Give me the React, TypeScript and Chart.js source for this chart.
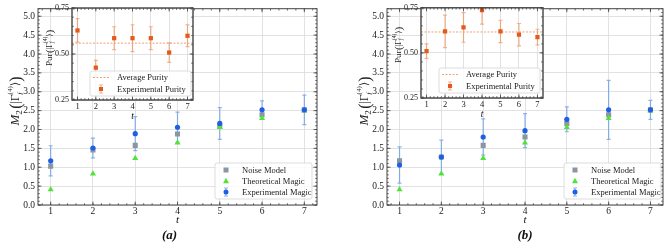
import React, { useEffect, useRef } from "react";
import { Chart, registerables } from "chart.js";
Chart.register(...registerables);

// ---------------- data ----------------
const steps = [1, 2, 3, 4, 5, 6, 7];
const magicTicks = [0, 0.5, 1, 1.5, 2, 2.5, 3, 3.5, 4, 4.5, 5];
const purityTicks = [0.25, 0.5, 0.75];

const theoreticalMagic = [0.41, 0.83, 1.24, 1.65, 2.06, 2.3, 2.5];

const noiseModelA = [1.03, 1.46, 1.58, 1.88, 2.08, 2.39, 2.52];
const experimentalMagicA = [1.17, 1.51, 1.89, 2.06, 2.16, 2.52, 2.52];
const experimentalMagicErrA = [0.4, 0.26, 0.45, 0.4, 0.42, 0.24, 0.39];
const purityA = [0.628, 0.426, 0.586, 0.586, 0.586, 0.508, 0.599];
const purityErrA = [0.064, 0.039, 0.062, 0.073, 0.062, 0.053, 0.059];
const averagePurityA = 0.559;

const noiseModelB = [1.17, 1.27, 1.58, 1.8, 2.16, 2.39, 2.52];
const experimentalMagicB = [1.06, 1.27, 1.8, 1.97, 2.27, 2.52, 2.52];
const experimentalMagicErrB = [0.48, 0.45, 0.48, 0.45, 0.33, 0.78, 0.25];
const purityB = [0.51, 0.619, 0.641, 0.737, 0.619, 0.601, 0.588];
const purityErrB = [0.04, 0.09, 0.082, 0.077, 0.062, 0.062, 0.043];
const averagePurityB = 0.616;

const LBL_NOISE = "Noise Model";
const LBL_THEORY = "Theoretical Magic";
const LBL_EXP = "Experimental Magic";
const LBL_AVG = "Average Purity";
const LBL_PUR = "Experimental Purity";

// ---------------- style ----------------
const FAMILY = "'Liberation Serif', 'DejaVu Serif', serif";
const COL = {
  blue: "#1f5fe6",
  blueErr: "rgba(80,140,228,0.65)",
  green: "#52e23a",
  gray: "#8a96a2",
  orange: "#e35a1a",
  orangeErr: "rgba(236,130,70,0.6)",
  avg: "#f2a070",
  text: "#222",
  grid: "#dadada",
  frame: "#444",
};
const X_MIN = 0.7;
const X_MAX = 7.3;

function fontStr(size: number, italic = false, bold = false) {
  return `${italic ? "italic " : ""}${bold ? "bold " : ""}${size}px ${FAMILY}`;
}

function drawMath(ctx: any, parts: any[], cx: number, cy: number, base: number) {
  ctx.save();
  ctx.translate(cx, cy);
  ctx.rotate(-Math.PI / 2);
  let total = 0;
  const widths = parts.map((p) => {
    let w;
    if (p.sup !== undefined) {
      ctx.font = fontStr(p.size, false);
      const a = ctx.measureText(p.sup).width;
      ctx.font = fontStr(p.size, true);
      const b = ctx.measureText(p.sub).width;
      w = Math.max(a, b);
    } else {
      ctx.font = fontStr(p.size, !!p.italic);
      w = ctx.measureText(p.t).width;
    }
    total += w + (p.gap || 0);
    return w;
  });
  let x = -total / 2;
  ctx.textBaseline = "alphabetic";
  ctx.textAlign = "left";
  ctx.fillStyle = COL.text;
  parts.forEach((p, i) => {
    if (p.sup !== undefined) {
      ctx.font = fontStr(p.size, false);
      ctx.fillText(p.sup, x, base + p.supDy);
      ctx.font = fontStr(p.size, true);
      ctx.fillText(p.sub, x, base + p.subDy);
    } else {
      ctx.font = fontStr(p.size, !!p.italic);
      ctx.fillText(p.t, x, base + (p.dy || 0));
    }
    x += widths[i] + (p.gap || 0);
  });
  ctx.restore();
}

const mainTitleParts = [
  { t: "M", size: 13, italic: true },
  { t: "2", size: 9, dy: 2.5, gap: 1.5 },
  { t: "(", size: 16, dy: 1.5 },
  { t: "|Γ", size: 11.5 },
  { sup: "(4)", sub: "f", size: 7, supDy: -7, subDy: 2.5 },
  { t: "⟩", size: 11.5 },
  { t: ")", size: 16, dy: 1.5 },
];
const insetTitleParts = [
  { t: "Pur", size: 9, gap: 0.5 },
  { t: "(", size: 11, dy: 1 },
  { t: "|Γ", size: 8 },
  { sup: "(4)", sub: "f", size: 5.5, supDy: -5, subDy: 2 },
  { t: "⟩", size: 8 },
  { t: ")", size: 11, dy: 1 },
];

// ---------------- plugins ----------------
const bgPlugin = {
  id: "areaBg",
  beforeDraw(chart: any) {
    const o = chart.options.plugins.areaBg;
    if (!o || !o.on) return;
    const { ctx, chartArea: a } = chart;
    ctx.save();
    ctx.fillStyle = "#fff";
    ctx.fillRect(a.left, a.top, a.right - a.left, a.bottom - a.top);
    ctx.restore();
  },
};

const errorBarPlugin = {
  id: "errBars",
  beforeDatasetsDraw(chart: any) {
    const { ctx, chartArea: a, scales } = chart;
    ctx.save();
    ctx.beginPath();
    ctx.rect(a.left, a.top, a.right - a.left, a.bottom - a.top);
    ctx.clip();
    chart.data.datasets.forEach((ds: any) => {
      if (!ds.errors) return;
      ctx.strokeStyle = ds.errColor;
      ctx.lineWidth = 1.2;
      ds.data.forEach((pt: any, i: number) => {
        const e = ds.errors[i];
        const px = scales.x.getPixelForValue(pt.x);
        const y1 = scales.y.getPixelForValue(pt.y - e);
        const y2 = scales.y.getPixelForValue(pt.y + e);
        ctx.beginPath();
        ctx.moveTo(px, y1);
        ctx.lineTo(px, y2);
        ctx.moveTo(px - 2, y1);
        ctx.lineTo(px + 2, y1);
        ctx.moveTo(px - 2, y2);
        ctx.lineTo(px + 2, y2);
        ctx.stroke();
      });
    });
    ctx.restore();
  },
};

const framePlugin = {
  id: "frameTicks",
  afterDatasetsDraw(chart: any) {
    const o = chart.options.plugins.frameTicks;
    if (!o || !o.xMinor) return;
    const { ctx, chartArea: a, scales } = chart;
    ctx.save();
    ctx.strokeStyle = COL.frame;
    ctx.lineWidth = 0.8;
    const seg = (x1: number, y1: number, x2: number, y2: number) => {
      ctx.beginPath();
      ctx.moveTo(x1, y1);
      ctx.lineTo(x2, y2);
      ctx.stroke();
    };
    const xs = scales.x, ys = scales.y;
    const drawX = (v: number, len: number) => {
      const p = xs.getPixelForValue(v);
      if (p < a.left - 0.1 || p > a.right + 0.1) return;
      seg(p, a.bottom, p, a.bottom - len);
      seg(p, a.top, p, a.top + len);
    };
    const drawY = (v: number, len: number) => {
      const p = ys.getPixelForValue(v);
      if (p < a.top - 0.1 || p > a.bottom + 0.1) return;
      seg(a.left, p, a.left + len, p);
      seg(a.right, p, a.right - len, p);
    };
    const eps = 1e-6;
    for (let v = Math.ceil(xs.min / o.xMinor) * o.xMinor; v <= xs.max + eps; v += o.xMinor) drawX(v, 1.8);
    for (let v = Math.ceil(ys.min / o.yMinor - eps) * o.yMinor; v <= ys.max + eps; v += o.yMinor) drawY(v, 1.8);
    xs.ticks.forEach((t: any) => drawX(t.value, 3.5));
    ys.ticks.forEach((t: any) => drawY(t.value, 3.5));
    ctx.lineWidth = o.frameWidth || 1;
    ctx.strokeRect(a.left, a.top, a.right - a.left, a.bottom - a.top);
    ctx.restore();
  },
};

function drawMarker(ctx: any, kind: string, x: number, y: number, color: string, size: number) {
  ctx.fillStyle = color;
  ctx.beginPath();
  if (kind === "rect") {
    ctx.rect(x - size / 2, y - size / 2, size, size);
  } else if (kind === "triangle") {
    const h = size * 0.9;
    ctx.moveTo(x, y - h * 0.6);
    ctx.lineTo(x + size / 2, y + h * 0.4);
    ctx.lineTo(x - size / 2, y + h * 0.4);
    ctx.closePath();
  } else {
    ctx.arc(x, y, size / 2, 0, Math.PI * 2);
  }
  ctx.fill();
}

const boxLegendPlugin = {
  id: "boxLegend",
  afterDraw(chart: any) {
    const o = chart.options.plugins.boxLegend;
    if (!o || !o.items) return;
    const ctx = chart.ctx;
    const { left, top, width, height } = o.box;
    ctx.save();
    ctx.beginPath();
    const r = 2;
    ctx.moveTo(left + r, top);
    ctx.arcTo(left + width, top, left + width, top + height, r);
    ctx.arcTo(left + width, top + height, left, top + height, r);
    ctx.arcTo(left, top + height, left, top, r);
    ctx.arcTo(left, top, left + width, top, r);
    ctx.closePath();
    ctx.fillStyle = "rgba(255,255,255,0.85)";
    ctx.fill();
    ctx.strokeStyle = "#d4d4d4";
    ctx.lineWidth = 0.8;
    ctx.stroke();
    o.items.forEach((it: any, i: number) => {
      const cy = top + o.firstRow + i * o.rowGap;
      const mx = left + o.markerX;
      if (it.kind === "dash") {
        ctx.strokeStyle = it.color;
        ctx.lineWidth = 1;
        ctx.setLineDash([2, 1.5]);
        ctx.beginPath();
        ctx.moveTo(left + o.lineX1, cy);
        ctx.lineTo(left + o.lineX2, cy);
        ctx.stroke();
        ctx.setLineDash([]);
      } else {
        if (it.errColor) {
          ctx.strokeStyle = it.errColor;
          ctx.lineWidth = 1.2;
          ctx.beginPath();
          ctx.moveTo(mx, cy - 4);
          ctx.lineTo(mx, cy + 4);
          ctx.moveTo(mx - 2, cy - 4);
          ctx.lineTo(mx + 2, cy - 4);
          ctx.moveTo(mx - 2, cy + 4);
          ctx.lineTo(mx + 2, cy + 4);
          ctx.stroke();
        }
        drawMarker(ctx, it.kind, mx, cy, it.color, it.size);
      }
      ctx.font = fontStr(o.fontSize);
      ctx.fillStyle = COL.text;
      ctx.textBaseline = "middle";
      ctx.textAlign = "left";
      ctx.fillText(it.label, left + o.textX, cy + 0.5);
    });
    ctx.restore();
  },
};

const yTitlePlugin = {
  id: "mathTitle",
  afterDraw(chart: any) {
    const o = chart.options.plugins.mathTitle;
    if (!o || !o.parts) return;
    drawMath(chart.ctx, o.parts, chart.chartArea.left - o.dx, o.cy, o.base);
  },
};

const panelLabelPlugin = {
  id: "panelLabel",
  afterDraw(chart: any) {
    const o = chart.options.plugins.panelLabel;
    if (!o || !o.text) return;
    const { ctx, chartArea: a } = chart;
    ctx.save();
    ctx.font = fontStr(13, true, true);
    ctx.fillStyle = "#111";
    ctx.textAlign = "center";
    ctx.textBaseline = "middle";
    ctx.fillText(o.text, (a.left + a.right) / 2 + o.dx, o.y);
    ctx.restore();
  },
};

Chart.register(bgPlugin, errorBarPlugin, framePlugin, boxLegendPlugin, yTitlePlugin, panelLabelPlugin);

const pts = (vals: number[]) => steps.map((t, i) => ({ x: t, y: vals[i] }));

function mainConfig(p: any) {
  return {
    type: "scatter",
    data: {
      datasets: [
        {
          label: LBL_EXP,
          data: pts(p.exp),
          errors: p.err,
          errColor: COL.blueErr,
          pointStyle: "circle",
          pointRadius: 2.6,
          pointHoverRadius: 2.6,
          backgroundColor: COL.blue,
          borderColor: COL.blue,
          borderWidth: 0,
          order: 0,
        },
        {
          label: LBL_THEORY,
          data: pts(theoreticalMagic),
          pointStyle: "triangle",
          pointRadius: 3.5,
          backgroundColor: COL.green,
          borderColor: COL.green,
          borderWidth: 0,
          order: 1,
        },
        {
          label: LBL_NOISE,
          data: pts(p.noise),
          pointStyle: "rect",
          pointRadius: 3.6,
          backgroundColor: COL.gray,
          borderColor: COL.gray,
          borderWidth: 0,
          order: 2,
        },
      ],
    },
    options: {
      animation: false,
      responsive: false,
      devicePixelRatio: 1,
      events: [],
      layout: { padding: { top: 1, right: p.padRight, left: 0, bottom: 0 } },
      plugins: {
        legend: { display: false },
        tooltip: { enabled: false },
        title: { display: false },
        frameTicks: { xMinor: 0.2, yMinor: 0.1, frameWidth: 1 },
        mathTitle: { parts: mainTitleParts, dx: 23, cy: 101, base: 4 },
        panelLabel: { text: p.panel, dx: p.panelDx, y: 236 },
        boxLegend: {
          box: p.legendBox,
          firstRow: 7,
          rowGap: 11,
          markerX: 11,
          textX: 27,
          fontSize: 8.5,
          items: [
            { label: LBL_NOISE, kind: "rect", color: COL.gray, size: 5 },
            { label: LBL_THEORY, kind: "triangle", color: COL.green, size: 6 },
            { label: LBL_EXP, kind: "circle", color: COL.blue, size: 5, errColor: COL.blueErr },
          ],
        },
      },
      scales: {
        x: {
          type: "linear",
          min: X_MIN,
          max: X_MAX,
          afterBuildTicks: (s: any) => {
            s.ticks = steps.map((v) => ({ value: v }));
          },
          afterFit: (s: any) => {
            s.height = 38;
          },
          ticks: {
            callback: (v: any) => String(v),
            padding: 1,
            color: COL.text,
            font: { family: FAMILY, size: 9.5 },
            maxRotation: 0,
            autoSkip: false,
          },
          grid: { color: COL.grid, lineWidth: 0.8, drawTicks: false },
          border: { display: false },
          title: {
            display: true,
            text: "t",
            color: "#111",
            font: { family: FAMILY, size: 11, style: "italic" },
            padding: { top: 0, bottom: 16 },
          },
        },
        y: {
          type: "linear",
          min: 0,
          max: 5.2,
          afterBuildTicks: (s: any) => {
            s.ticks = magicTicks.map((v) => ({ value: v }));
          },
          afterFit: (s: any) => {
            s.width = 38;
          },
          ticks: {
            callback: (v: any) => Number(v).toFixed(1),
            padding: 3,
            color: COL.text,
            font: { family: FAMILY, size: 9.5 },
            autoSkip: false,
          },
          grid: { color: COL.grid, lineWidth: 0.8, drawTicks: false },
          border: { display: false },
        },
      },
    },
  };
}

function insetConfig(p: any) {
  return {
    type: "scatter",
    data: {
      datasets: [
        {
          label: LBL_PUR,
          data: pts(p.purity),
          errors: p.err,
          errColor: COL.orangeErr,
          pointStyle: "rect",
          pointRadius: 3,
          backgroundColor: COL.orange,
          borderColor: COL.orange,
          borderWidth: 0,
          order: 0,
        },
        {
          label: LBL_AVG,
          data: [
            { x: X_MIN, y: p.avg },
            { x: X_MAX, y: p.avg },
          ],
          showLine: true,
          pointRadius: 0,
          borderColor: COL.avg,
          borderWidth: 1,
          borderDash: [2, 1.5],
          order: 1,
        },
      ],
    },
    options: {
      animation: false,
      responsive: false,
      devicePixelRatio: 1,
      events: [],
      layout: { padding: { top: p.padTop, right: p.padRight, left: 0, bottom: 0 } },
      plugins: {
        legend: { display: false },
        tooltip: { enabled: false },
        title: { display: false },
        areaBg: { on: true },
        frameTicks: { xMinor: 0.2, yMinor: 0.05, frameWidth: 1.4 },
        mathTitle: { parts: insetTitleParts, dx: 24, cy: p.titleY, base: 4 },
        boxLegend: {
          box: p.legendBox,
          firstRow: 6.5,
          rowGap: 11.5,
          markerX: 11,
          lineX1: 3,
          lineX2: 19,
          textX: 27,
          fontSize: 8.5,
          items: [
            { label: LBL_AVG, kind: "dash", color: COL.avg },
            { label: LBL_PUR, kind: "rect", color: COL.orange, size: 4, errColor: COL.orangeErr },
          ],
        },
      },
      scales: {
        x: {
          type: "linear",
          min: X_MIN,
          max: X_MAX,
          afterBuildTicks: (s: any) => {
            s.ticks = steps.map((v) => ({ value: v }));
          },
          afterFit: (s: any) => {
            s.height = p.xHeight;
          },
          ticks: {
            callback: (v: any) => String(v),
            padding: 2,
            color: COL.text,
            font: { family: FAMILY, size: 8.5 },
            maxRotation: 0,
            autoSkip: false,
          },
          grid: { color: COL.grid, lineWidth: 0.8, drawTicks: false },
          border: { display: false },
          title: {
            display: true,
            text: "t",
            color: "#111",
            font: { family: FAMILY, size: 9.5, style: "italic" },
            padding: { top: 0, bottom: p.tPad },
          },
        },
        y: {
          type: "linear",
          min: 0.25,
          max: 0.75,
          afterBuildTicks: (s: any) => {
            s.ticks = purityTicks.map((v) => ({ value: v }));
          },
          afterFit: (s: any) => {
            s.width = 34;
          },
          ticks: {
            callback: (v: any) => Number(v).toFixed(2),
            padding: 3,
            color: COL.text,
            font: { family: FAMILY, size: 8 },
            autoSkip: false,
          },
          grid: { color: COL.grid, lineWidth: 0.8, drawTicks: false },
          border: { display: false },
        },
      },
    },
  };
}

function ChartCanvas({ make, left, top, width, height }: any) {
  const ref = useRef<HTMLCanvasElement | null>(null);
  useEffect(() => {
    const chart = new Chart(ref.current as any, make() as any);
    return () => chart.destroy();
  }, []);
  return (
    <canvas
      ref={ref}
      width={width}
      height={height}
      style={{ position: "absolute", left, top, width, height }}
    />
  );
}

export default function App() {
  return (
    <div
      style={{
        position: "absolute",
        left: 0,
        top: 0,
        width: 667,
        height: 243,
        background: "#fff",
        overflow: "hidden",
      }}
    >
      <ChartCanvas
        left={0}
        top={0}
        width={338}
        height={243}
        make={() =>
          mainConfig({
            panel: "(a)",
            panelDx: -8,
            padRight: 21,
            noise: noiseModelA,
            exp: experimentalMagicA,
            err: experimentalMagicErrA,
            legendBox: { left: 215, top: 163, width: 97, height: 36 },
          })
        }
      />
      <ChartCanvas
        left={349}
        top={0}
        width={318}
        height={243}
        make={() =>
          mainConfig({
            panel: "(b)",
            panelDx: 0,
            padRight: 2,
            noise: noiseModelB,
            exp: experimentalMagicB,
            err: experimentalMagicErrB,
            legendBox: { left: 215, top: 163, width: 97, height: 36 },
          })
        }
      />
      <ChartCanvas
        left={38}
        top={0}
        width={160}
        height={125}
        make={() =>
          insetConfig({
            purity: purityA,
            err: purityErrA,
            avg: averagePurityA,
            padTop: 8,
            padRight: 5,
            xHeight: 25,
            tPad: 3,
            titleY: 48,
            legendBox: { left: 52, top: 71, width: 101, height: 25 },
          })
        }
      />
      <ChartCanvas
        left={387}
        top={0}
        width={160}
        height={125}
        make={() =>
          insetConfig({
            purity: purityB,
            err: purityErrB,
            avg: averagePurityB,
            padTop: 6,
            padRight: 4,
            xHeight: 27,
            tPad: 5,
            titleY: 45,
            legendBox: { left: 52, top: 68, width: 101, height: 25 },
          })
        }
      />
    </div>
  );
}
